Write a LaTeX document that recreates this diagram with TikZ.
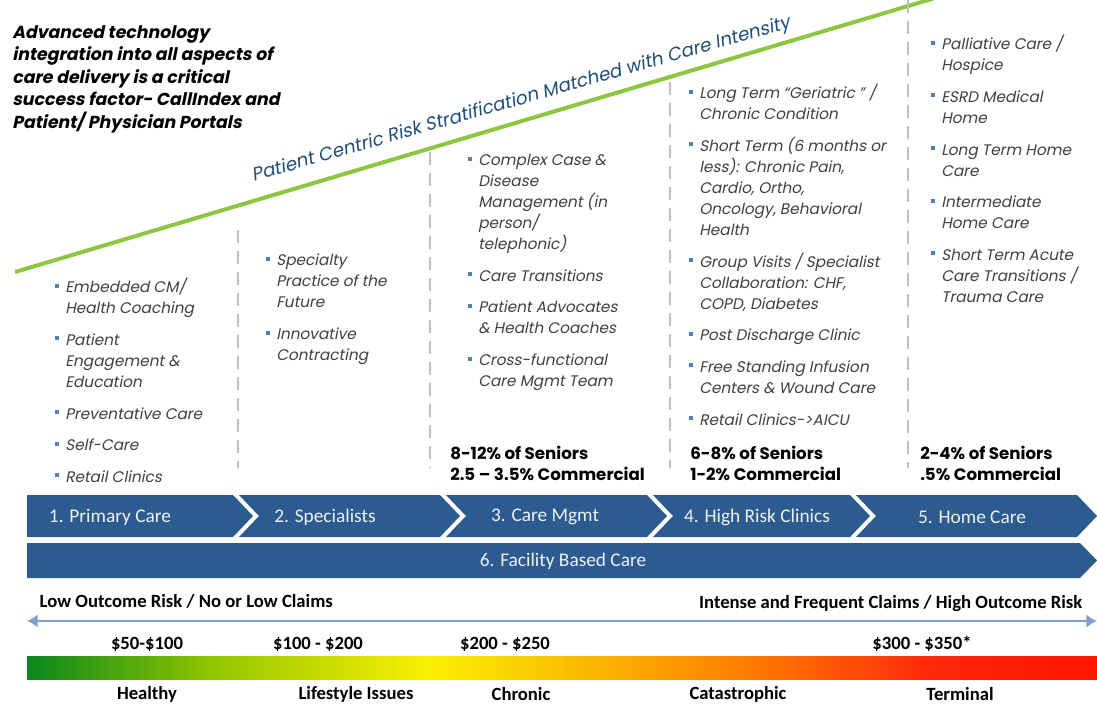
\documentclass[tikz,border=0pt]{standalone}
\usepackage{fontspec}
\setmainfont{Poppins}
\newfontfamily\itfont{Poppins}[FakeSlant=0.2]
\newfontfamily\calfont{Carlito}
\usetikzlibrary{arrows.meta}
\definecolor{chevblue}{RGB}{43,91,143}
\definecolor{textgray}{RGB}{64,64,64}
\definecolor{bulblue}{RGB}{79,129,189}
\definecolor{titleblue}{RGB}{31,78,121}
\definecolor{linegreen}{RGB}{141,198,63}
\definecolor{dashgray}{RGB}{191,191,191}
\definecolor{arrowblue}{RGB}{125,160,205}
\definecolor{g0}{RGB}{10,135,30}
\definecolor{g1}{RGB}{150,200,0}
\definecolor{g2}{RGB}{250,240,0}
\definecolor{g3}{RGB}{250,180,0}
\definecolor{g4}{RGB}{255,120,0}
\definecolor{g5}{RGB}{255,40,10}
\definecolor{g6}{RGB}{255,20,0}
\pgfdeclarehorizontalshading{riskbar}{100bp}{color(0bp)=(g0); color(25bp)=(g0);
  color(34bp)=(g1); color(43.8bp)=(g2); color(51.8bp)=(g3); color(59.2bp)=(g4);
  color(67.2bp)=(g5); color(75bp)=(g6); color(100bp)=(g6)}
\newcommand{\bul}{\llap{\textcolor{bulblue}{\rule[0.32em]{3pt}{3pt}}\hspace{4.5pt}}}
\tikzset{
  colitem/.style={anchor=north west, inner sep=0, align=left, text=textgray,
    font=\itfont\fontsize{11.5}{15.75}\selectfont},
  share/.style={anchor=north west, inner sep=0, align=left,
    font=\bfseries\fontsize{12.5}{15.75}\selectfont},
  sep/.style={dashgray, line width=2.2pt, dash pattern=on 9.75pt off 6pt},
  chev/.style={fill=chevblue},
  chevlabel/.style={text=white!92!chevblue, font=\calfont\fontsize{14.5}{16}\selectfont},
  risk/.style={font=\calfont\bfseries\fontsize{14}{16}\selectfont}
}
\begin{document}
\begin{tikzpicture}[x=0.75pt,y=-0.75pt]
\useasboundingbox (0,0) rectangle (1097,704);

% headline
\node[anchor=north west, inner sep=0, align=left, font=\itfont\bfseries\fontsize{13}{16.9}\selectfont] (head) at (12,25)
  {Advanced technology\\integration into all aspects of\\care delivery is a critical\\success factor- CallIndex and\\Patient/ Physician Portals};

% stratification line
\coordinate (gl) at (15,272);
\coordinate (gr) at (935,-2);
\draw[linegreen, line width=3pt] (gl) -- (gr);
\node[rotate=16, text=titleblue, font=\itfont\fontsize{13.8}{15}\selectfont] (strat) at (521,100)
  {Patient Centric Risk Stratification Matched with Care Intensity};

% column separators
\foreach \x/\t [count=\i] in {238/230, 430/152, 670/82, 908/0}{
  \coordinate (s\i t) at (\x,\t);
  \coordinate (s\i b) at (\x,468);
  \draw[sep] (s\i t) -- (s\i b);
}

% columns
\node[colitem] (col1) at (65,278) {\bul Embedded CM/\\Health Coaching\\[8pt]
  \bul Patient\\Engagement \&\\Education\\[8pt]
  \bul Preventative Care\\[8pt]
  \bul Self-Care\\[8pt]
  \bul Retail Clinics};
\node[colitem] (col2) at (276,254) {\bul Specialty\\Practice of the\\Future\\[8pt]
  \bul Innovative\\Contracting};
\node[colitem] (col3) at (478,154) {\bul Complex Case \&\\Disease\\Management (in\\person/\\telephonic)\\[8pt]
  \bul Care Transitions\\[8pt]
  \bul Patient Advocates\\\& Health Coaches\\[8pt]
  \bul Cross-functional\\Care Mgmt Team};
\node[colitem] (col4) at (699,84) {\bul Long Term “Geriatric ” /\\Chronic Condition\\[8pt]
  \bul Short Term (6 months or\\less): Chronic Pain,\\Cardio, Ortho,\\Oncology, Behavioral\\Health\\[8pt]
  \bul Group Visits / Specialist\\Collaboration: CHF,\\COPD, Diabetes\\[8pt]
  \bul Post Discharge Clinic\\[8pt]
  \bul Free Standing Infusion\\Centers \& Wound Care\\[8pt]
  \bul Retail Clinics->AICU};
\node[colitem] (col5) at (941,35) {\bul Palliative Care /\\Hospice\\[8pt]
  \bul ESRD Medical\\Home\\[8pt]
  \bul Long Term Home\\Care\\[8pt]
  \bul Intermediate\\Home Care\\[8pt]
  \bul Short Term Acute\\Care Transitions /\\Trauma Care};

\node[share] (pct3) at (450,446) {8-12\% of Seniors\\2.5 – 3.5\% Commercial};
\node[share] (pct4) at (690,446) {6-8\% of Seniors\\1-2\% Commercial};
\node[share] (pct5) at (920,446) {2-4\% of Seniors\\.5\% Commercial};

% care chevrons
\fill[chev] (27,495) -- (233,495) -- (253,516) -- (233,537) -- (27,537) -- cycle;
\foreach \l/\r in {239/460, 446/667, 653/870, 856/1097}{
  \fill[chev] (\l,495) -- (\r-20,495) -- (\r,516) -- (\r-20,537) -- (\l,537) -- (\l+20,516) -- cycle;
}
\node[chevlabel] (pc) at (110,517) {1. Primary Care};
\node[chevlabel] (sp) at (325,517) {2. Specialists};
\node[chevlabel] (cm) at (545,517) {3. Care Mgmt};
\node[chevlabel] (hr) at (757,517) {4. High Risk Clinics};
\node[chevlabel] (hc) at (972,517) {5. Home Care};

\fill[chev] (27,543) -- (1080,543) -- (1097,560.5) -- (1080,578) -- (27,578) -- cycle;
\node[chevlabel] (fb) at (563,561) {6. Facility Based Care};

% risk scale
\node[risk, anchor=west] (lowrisk) at (35,601) {Low Outcome Risk / No or Low Claims};
\node[risk, anchor=east] (highrisk) at (1087,604) {Intense and Frequent Claims / High Outcome Risk};
\coordinate (lo) at (27,621);
\coordinate (hi) at (1097,621);
\draw[arrowblue, line width=2.2pt, {Latex[length=8pt,width=10pt]}-{Latex[length=8pt,width=10pt]}] (lo) -- (hi);

\node[risk] (p1) at (147,644) {\$50-\$100};
\node[risk] (p2) at (318,644) {\$100 - \$200};
\node[risk] (p3) at (505,644) {\$200 - \$250};
\node[risk] (p4) at (922,644) {\$300 - \$350*};

\shade[shading=riskbar] (27,656) rectangle (1097,679);

\node[risk] (h1) at (147,694) {Healthy};
\node[risk] (h2) at (356,694) {Lifestyle Issues};
\node[risk] (h3) at (521,694) {Chronic};
\node[risk] (h4) at (738,694) {Catastrophic};
\node[risk] (h5) at (960,694) {Terminal};

\end{tikzpicture}
\end{document}
